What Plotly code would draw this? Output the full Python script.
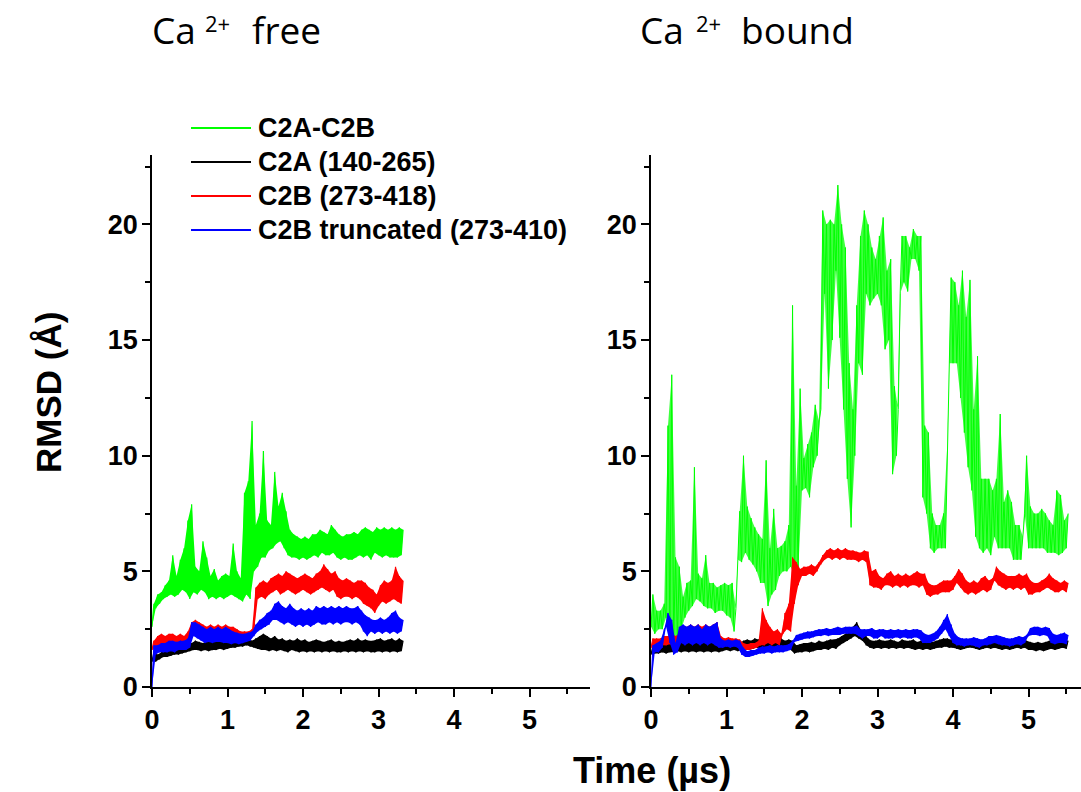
import plotly.graph_objects as go

# ---------------- data (RMSD in Å; lo/hi = lower/upper edge of the noisy trace every 0.05 µs) --------
STEP = 0.05  # µs between samples

# Ca2+ free panel, t = 0.00 ... 3.30 µs
free_green_lo = [2.6, 3.4, 3.6, 3.8, 3.9, 4.0, 3.9, 4.0, 4.2, 4.1,
                 3.8, 4.1, 4.0, 4.2, 4.1, 3.8, 3.9, 3.8, 3.9, 3.8,
                 3.9, 4.0, 3.9, 3.8, 3.7, 4.0, 3.8, 5.0, 5.2, 5.6,
                 5.6, 5.9, 6.0, 6.2, 6.3, 6.0, 5.7, 5.6, 5.6, 5.5,
                 5.6, 5.5, 5.6, 5.7, 5.6, 5.8, 5.7, 5.7, 5.8, 5.6,
                 5.5, 5.6, 5.5, 5.5, 5.6, 5.7, 5.6, 5.7, 5.5, 5.8,
                 5.7, 5.6, 5.7, 5.6, 5.6, 5.6, 5.7]
free_green_hi = [3.6, 4.0, 4.1, 4.4, 4.6, 5.7, 4.8, 5.5, 6.0, 7.2,
                 7.9, 5.2, 5.0, 6.3, 5.6, 4.8, 5.1, 4.6, 4.8, 4.9,
                 4.8, 6.2, 5.0, 4.7, 8.4, 8.9, 11.5, 7.0, 7.5, 10.2,
                 7.2, 7.0, 9.3, 7.8, 8.4, 7.6, 6.8, 6.6, 6.5, 6.4,
                 6.5, 6.4, 6.6, 6.6, 6.8, 6.7, 6.6, 7.0, 6.8, 6.6,
                 6.5, 6.6, 6.6, 6.7, 6.6, 6.8, 6.9, 6.8, 6.7, 6.9,
                 6.8, 6.9, 6.8, 6.9, 6.8, 6.9, 6.8]
free_black_lo = [1.1, 1.1, 1.2, 1.3, 1.3, 1.35, 1.4, 1.4, 1.45, 1.5,
                 1.55, 1.6, 1.6, 1.55, 1.6, 1.55, 1.6, 1.6, 1.65, 1.6,
                 1.65, 1.7, 1.7, 1.75, 1.75, 1.8, 1.75, 1.7, 1.65, 1.6,
                 1.6, 1.55, 1.6, 1.55, 1.6, 1.55, 1.5, 1.6, 1.55, 1.5,
                 1.55, 1.5, 1.55, 1.5, 1.55, 1.5, 1.55, 1.5, 1.55, 1.5,
                 1.5, 1.55, 1.5, 1.55, 1.5, 1.55, 1.5, 1.55, 1.5, 1.5,
                 1.55, 1.5, 1.55, 1.5, 1.55, 1.5, 1.55]
free_black_hi = [1.5, 1.4, 1.5, 1.6, 1.6, 1.65, 1.7, 1.7, 1.75, 1.8,
                 1.9, 2.0, 1.95, 1.9, 2.0, 1.95, 1.95, 2.0, 1.95, 2.0,
                 2.0, 2.05, 2.0, 2.05, 2.1, 2.1, 2.0, 2.1, 2.2, 2.3,
                 2.2, 2.1, 2.2, 2.05, 2.1, 2.0, 2.05, 2.0, 2.1, 2.0,
                 2.05, 1.95, 2.0, 2.05, 2.0, 1.95, 2.0, 2.05, 1.95, 2.0,
                 1.95, 2.0, 2.05, 2.0, 2.1, 2.0, 2.05, 2.0, 2.0, 2.05,
                 2.1, 2.0, 2.05, 2.1, 2.0, 2.1, 2.0]
free_red_lo = [1.6, 1.7, 1.8, 1.8, 1.7, 1.8, 1.75, 1.8, 1.8, 1.9,
               1.9, 2.3, 2.2, 2.1, 2.0, 2.1, 2.0, 2.1, 2.1, 2.1,
               2.0, 2.0, 2.0, 2.0, 2.05, 2.1, 2.1, 2.4, 3.8, 3.9,
               3.8, 4.0, 4.1, 4.2, 4.0, 4.1, 4.2, 4.1, 4.0, 4.1,
               4.2, 4.1, 4.0, 4.1, 4.2, 4.3, 4.2, 4.1, 4.2, 3.9,
               3.8, 3.9, 3.9, 3.8, 3.9, 3.8, 3.6, 3.5, 3.4, 3.2,
               3.5, 3.7, 3.6, 3.7, 3.8, 3.7, 3.6]
free_red_hi = [2.0, 2.2, 2.3, 2.2, 2.3, 2.3, 2.2, 2.3, 2.2, 2.4,
               2.8, 2.9, 2.8, 2.7, 2.6, 2.7, 2.6, 2.7, 2.6, 2.7,
               2.6, 2.6, 2.5, 2.4, 2.4, 2.4, 2.5, 4.3, 4.5, 4.6,
               4.5, 4.7, 4.8, 4.9, 4.8, 5.0, 4.9, 4.8, 4.7, 4.8,
               4.9, 4.8, 4.7, 4.9, 5.0, 5.3, 5.1, 4.9, 5.0, 4.7,
               4.6, 4.7, 4.6, 4.5, 4.6, 4.6, 4.5, 4.3, 4.2, 4.0,
               4.4, 4.6, 4.5, 4.6, 5.2, 4.8, 4.6]
free_blue_lo = [0.0, 1.4, 1.5, 1.5, 1.5, 1.55, 1.5, 1.6, 1.6, 1.6,
                1.7, 2.2, 2.1, 2.0, 1.9, 1.95, 1.9, 1.95, 1.95, 1.9,
                1.9, 1.85, 1.9, 1.85, 1.9, 1.95, 2.0, 2.2, 2.4, 2.5,
                2.6, 2.7, 2.9, 2.9, 2.8, 2.7, 2.8, 2.7, 2.6, 2.7,
                2.6, 2.7, 2.6, 2.7, 2.8, 2.7, 2.7, 2.8, 2.7, 2.8,
                2.7, 2.8, 2.8, 2.7, 2.8, 2.7, 2.4, 2.2, 2.4, 2.3,
                2.4, 2.3, 2.4, 2.3, 2.4, 2.3, 2.4]
free_blue_hi = [1.8, 1.8, 1.9, 1.9, 2.0, 2.0, 1.95, 2.0, 2.0, 2.1,
                2.8, 2.8, 2.7, 2.6, 2.5, 2.6, 2.5, 2.6, 2.5, 2.6,
                2.5, 2.4, 2.35, 2.3, 2.3, 2.35, 2.4, 2.7, 2.9, 3.0,
                3.2, 3.3, 3.6, 3.7, 3.5, 3.4, 3.6, 3.4, 3.3, 3.4,
                3.3, 3.4, 3.3, 3.5, 3.4, 3.5, 3.4, 3.5, 3.4, 3.5,
                3.4, 3.5, 3.4, 3.4, 3.5, 3.3, 3.1, 3.0, 2.9, 2.9,
                3.0, 2.9, 3.0, 3.2, 3.3, 3.0, 2.9]

# Ca2+ bound panel, t = 0.00 ... 5.50 µs
bound_green_lo = [2.6, 2.3, 2.5, 2.5, 3.0, 2.2, 2.0, 2.1, 2.5, 3.0,
                  3.3, 3.5, 3.8, 3.7, 3.5, 3.4, 3.4, 3.2, 3.3, 3.3,
                  3.1, 3.0, 2.4, 5.5, 5.4, 5.8, 5.5, 5.3, 5.0, 4.5,
                  4.5, 3.5, 4.0, 4.2, 4.8, 5.0, 5.0, 5.2, 4.8, 5.0,
                  8.5, 8.6, 8.2, 9.5, 10.0, 12.0, 17.0, 12.9, 15.0, 18.0,
                  15.1, 12.0, 9.0, 6.9, 10.0, 14.0, 13.5, 17.0, 16.5, 16.8,
                  17.0, 16.5, 14.6, 15.0, 9.2, 10.0, 17.0, 17.5, 17.1, 18.5,
                  18.5, 18.0, 8.2, 7.5, 6.0, 5.8, 6.0, 6.0, 6.0, 14.0,
                  14.0, 14.0, 12.5, 11.0, 9.5, 8.5, 6.5, 6.0, 5.8, 6.0,
                  5.7, 6.5, 6.0, 6.0, 6.0, 6.0, 5.5, 5.5, 5.5, 7.5,
                  6.0, 6.0, 6.0, 6.0, 6.0, 5.8, 5.8, 5.8, 5.7, 5.8,
                  6.0]
bound_green_hi = [4.0, 3.3, 3.3, 3.6, 11.3, 13.5, 5.6, 5.2, 3.9, 4.5,
                  4.6, 9.5, 4.9, 4.7, 5.7, 4.5, 4.5, 4.3, 4.4, 4.5,
                  4.4, 4.5, 3.4, 7.6, 10.0, 7.8, 7.3, 6.9, 6.6, 6.4,
                  9.8, 6.0, 7.7, 6.0, 6.1, 6.3, 7.0, 16.5, 8.7, 12.9,
                  9.9, 10.5, 11.0, 12.2, 11.5, 20.6, 20.0, 20.2, 20.0, 21.7,
                  20.0, 19.0, 14.0, 12.0, 16.5, 19.5, 20.6, 20.0, 19.0, 18.5,
                  19.5, 20.3, 18.0, 18.5, 13.0, 12.0, 19.5, 19.5, 19.0, 19.8,
                  19.5, 19.5, 11.3, 11.0, 7.5, 7.0, 7.0, 7.5, 10.5, 17.7,
                  17.5, 16.5, 18.0, 16.0, 17.6, 12.0, 14.3, 9.0, 9.0, 9.0,
                  8.5, 9.0, 11.8, 8.0, 8.5, 8.0, 7.0, 7.0, 6.5, 10.0,
                  7.8, 7.5, 7.5, 7.7, 7.5, 7.2, 7.0, 8.5, 8.3, 7.2,
                  7.5]
bound_black_lo = [1.4, 1.45, 1.45, 1.5, 1.45, 1.5, 1.5, 1.55, 1.5, 1.55,
                  1.5, 1.55, 1.5, 1.55, 1.5, 1.55, 1.5, 1.55, 1.5, 1.55,
                  1.6, 1.55, 1.6, 1.55, 1.6, 1.65, 1.6, 1.65, 1.7, 1.65,
                  1.7, 1.65, 1.7, 1.65, 1.7, 1.65, 1.7, 1.6, 1.45, 1.5,
                  1.5, 1.55, 1.5, 1.55, 1.6, 1.6, 1.65, 1.6, 1.7, 1.65,
                  1.8, 1.9, 2.0, 2.1, 2.2, 2.1, 2.0, 1.8, 1.7, 1.65,
                  1.7, 1.65, 1.7, 1.65, 1.7, 1.65, 1.7, 1.65, 1.7, 1.65,
                  1.6, 1.65, 1.6, 1.65, 1.6, 1.65, 1.7, 1.7, 1.75, 1.7,
                  1.7, 1.65, 1.6, 1.65, 1.7, 1.7, 1.65, 1.6, 1.65, 1.7,
                  1.65, 1.7, 1.65, 1.6, 1.65, 1.6, 1.65, 1.7, 1.65, 1.7,
                  1.6, 1.6, 1.55, 1.6, 1.55, 1.6, 1.65, 1.6, 1.65, 1.7,
                  1.65]
bound_black_hi = [1.8, 1.8, 1.85, 1.8, 1.85, 1.9, 1.85, 1.9, 1.95, 1.9,
                  1.95, 1.9, 1.95, 2.0, 1.9, 1.95, 1.9, 1.95, 1.9, 1.95,
                  1.95, 1.9, 1.95, 1.9, 2.0, 2.05, 2.0, 2.1, 2.05, 2.1,
                  2.1, 2.0, 2.1, 2.05, 2.1, 2.0, 2.05, 2.0, 1.8, 1.85,
                  1.9, 1.9, 1.95, 1.9, 2.0, 1.95, 2.0, 2.05, 2.05, 2.1,
                  2.2, 2.3, 2.4, 2.6, 2.8, 2.5, 2.35, 2.1, 2.0, 2.0,
                  2.05, 2.0, 2.0, 2.05, 2.0, 1.95, 2.05, 2.0, 2.0, 2.05,
                  1.95, 2.0, 1.95, 2.0, 1.95, 2.0, 2.05, 2.1, 2.1, 2.05,
                  2.0, 1.95, 2.0, 1.95, 2.0, 2.05, 2.0, 1.95, 2.0, 2.05,
                  2.0, 2.0, 1.95, 1.95, 2.0, 1.95, 2.0, 2.05, 2.0, 2.0,
                  1.95, 1.9, 1.95, 1.9, 1.95, 2.0, 2.0, 1.95, 2.0, 2.05,
                  2.0]
bound_red_lo = [1.7, 1.7, 1.75, 1.8, 1.8, 1.85, 1.8, 1.9, 1.9, 2.0,
                2.0, 2.0, 2.1, 2.0, 2.1, 2.0, 2.1, 2.1, 1.9, 1.85,
                1.85, 1.8, 1.85, 1.8, 1.65, 1.6, 1.6, 1.65, 1.7, 1.8,
                1.8, 1.9, 1.8, 1.9, 1.8, 2.3, 2.5, 2.4, 3.6, 4.4,
                4.8, 4.8, 4.9, 4.8, 5.0, 5.3, 5.5, 5.6, 5.5, 5.6,
                5.5, 5.6, 5.5, 5.5, 5.5, 5.4, 5.5, 5.4, 4.4, 4.3,
                4.3, 4.2, 4.4, 4.4, 4.3, 4.4, 4.3, 4.4, 4.3, 4.4,
                4.4, 4.3, 4.4, 4.0, 3.9, 4.0, 4.0, 4.1, 4.1, 4.1,
                4.2, 4.5, 4.3, 4.1, 4.0, 4.1, 4.0, 4.1, 4.2, 4.1,
                4.2, 4.6, 4.4, 4.3, 4.2, 4.3, 4.2, 4.3, 4.2, 4.3,
                4.0, 4.0, 4.1, 4.1, 4.2, 4.3, 4.2, 4.1, 4.1, 4.2,
                4.1]
bound_red_hi = [2.1, 2.1, 2.1, 2.2, 2.2, 2.3, 2.2, 2.3, 2.5, 2.6,
                2.7, 2.6, 2.7, 2.6, 2.7, 2.6, 2.7, 2.8, 2.2, 2.1,
                2.15, 2.1, 2.1, 2.05, 1.9, 1.85, 1.9, 1.9, 2.0, 3.4,
                2.9, 2.6, 2.4, 2.5, 2.3, 3.2, 3.6, 5.6, 5.4, 5.1,
                5.2, 5.2, 5.3, 5.2, 5.4, 5.7, 5.9, 6.0, 5.9, 6.0,
                5.9, 6.0, 5.9, 5.9, 5.85, 5.8, 5.9, 5.85, 5.0, 5.1,
                4.8, 4.7, 4.9, 5.0, 4.8, 4.9, 4.8, 4.9, 4.8, 4.9,
                5.0, 4.9, 4.9, 4.5, 4.4, 4.4, 4.5, 4.6, 4.6, 4.6,
                4.8, 5.1, 4.9, 4.6, 4.5, 4.6, 4.5, 4.7, 4.8, 4.6,
                4.7, 5.2, 5.0, 4.9, 4.8, 4.8, 4.8, 4.9, 4.8, 4.9,
                4.6, 4.5, 4.5, 4.6, 4.7, 4.9, 4.7, 4.6, 4.5, 4.6,
                4.5]
bound_blue_lo = [0.0, 1.5, 1.5, 1.7, 2.6, 1.9, 1.4, 1.5, 1.9, 1.8,
                 1.9, 1.8, 1.9, 1.8, 1.9, 1.8, 1.9, 1.8, 1.7, 1.7,
                 1.75, 1.7, 1.75, 1.7, 1.4, 1.3, 1.3, 1.35, 1.4, 1.45,
                 1.45, 1.5, 1.45, 1.5, 1.5, 1.5, 1.55, 1.6, 1.95, 2.0,
                 2.05, 2.1, 2.1, 2.15, 2.2, 2.2, 2.25, 2.2, 2.25, 2.25,
                 2.25, 2.3, 2.3, 2.3, 2.3, 2.2, 2.1, 2.2, 2.2, 2.1,
                 2.1, 2.2, 2.1, 2.1, 2.1, 2.15, 2.1, 2.15, 2.1, 2.1,
                 2.15, 2.1, 1.9, 1.9, 1.9, 2.0, 2.1, 2.3, 2.5, 2.2,
                 1.9, 1.8, 1.8, 1.75, 1.8, 1.8, 1.75, 1.7, 1.8, 1.8,
                 1.85, 1.9, 1.85, 1.8, 1.8, 1.75, 1.8, 1.85, 1.8, 1.9,
                 2.2, 2.25, 2.25, 2.2, 2.25, 2.2, 1.9, 1.85, 1.9, 1.9,
                 1.85]
bound_blue_hi = [1.8, 1.9, 2.0, 2.5, 3.2, 2.9, 1.9, 2.6, 2.7, 2.6,
                 2.7, 2.6, 2.7, 2.5, 2.7, 2.6, 2.7, 2.8, 2.1, 2.0,
                 2.05, 2.0, 2.05, 2.0, 1.7, 1.55, 1.6, 1.6, 1.7, 1.75,
                 1.75, 1.8, 1.75, 1.8, 1.8, 1.8, 1.85, 2.0, 2.25, 2.3,
                 2.35, 2.4, 2.4, 2.45, 2.5, 2.5, 2.55, 2.5, 2.55, 2.6,
                 2.55, 2.6, 2.6, 2.6, 2.65, 2.5, 2.5, 2.5, 2.55, 2.45,
                 2.5, 2.5, 2.45, 2.5, 2.45, 2.5, 2.45, 2.5, 2.45, 2.5,
                 2.5, 2.45, 2.3, 2.25, 2.3, 2.4, 2.6, 2.9, 3.15, 2.7,
                 2.3, 2.15, 2.1, 2.1, 2.1, 2.15, 2.1, 2.05, 2.1, 2.2,
                 2.2, 2.25, 2.2, 2.15, 2.1, 2.1, 2.15, 2.2, 2.15, 2.25,
                 2.55, 2.6, 2.6, 2.55, 2.6, 2.55, 2.3, 2.25, 2.3, 2.35,
                 2.25]

series_names = ["C2A-C2B", "C2A (140-265)", "C2B (273-418)", "C2B truncated (273-410)"]
series_colors = ["#00ff00", "#000000", "#ff0000", "#0000ff"]
x_tick_vals = [0, 1, 2, 3, 4, 5]
y_tick_vals = [0, 5, 10, 15, 20]

free_series = [(free_green_lo, free_green_hi), (free_black_lo, free_black_hi),
               (free_red_lo, free_red_hi), (free_blue_lo, free_blue_hi)]
bound_series = [(bound_green_lo, bound_green_hi), (bound_black_lo, bound_black_hi),
                (bound_red_lo, bound_red_hi), (bound_blue_lo, bound_blue_hi)]


def trace_xy(lo, hi):
    """Interleave the read lower/upper edges into one noisy trace."""
    xs, ys = [], []
    for i, (a, b) in enumerate(zip(lo, hi)):
        t = round(i * STEP, 3)
        xs += [t, t + STEP / 2]
        ys += [a, b]
    return xs, ys


def band_xy(lo, hi):
    """Closed outline of the trace envelope (upper edge forward, lower edge back)."""
    t = [round(i * STEP, 3) for i in range(len(lo))]
    xs = [ti + STEP / 2 for ti in t] + t[::-1]
    ys = list(hi) + list(lo)[::-1]
    return xs, ys


def rgba(hexcol, a):
    h = hexcol.lstrip("#")
    return "rgba(%d,%d,%d,%.2f)" % (int(h[0:2], 16), int(h[2:4], 16), int(h[4:6], 16), a)


# ---------------- layout geometry ----------------
W, H = 1081, 792
def px(x):
    return x / W
def py(y):
    return (H - y) / H

fig = go.Figure()
panels = [(free_series, "x", "y", 1.0, 1.2), (bound_series, "x2", "y2", 0.75, 1.0)]
for series, xa, ya, green_alpha, lw in panels:
    for k, ((lo, hi), name, col) in enumerate(zip(series, series_names, series_colors)):
        alpha = green_alpha if k == 0 else 1.0
        bx, by = band_xy(lo, hi)
        fig.add_trace(go.Scatter(x=bx, y=by, mode="lines", fill="toself",
                                 fillcolor=rgba(col, alpha), line=dict(width=0),
                                 hoverinfo="skip", showlegend=False, xaxis=xa, yaxis=ya))
        xs, ys = trace_xy(lo, hi)
        fig.add_trace(go.Scatter(x=xs, y=ys, mode="lines", name=name,
                                 line=dict(color=col, width=lw), showlegend=False,
                                 xaxis=xa, yaxis=ya))

tickfont = dict(family="Liberation Sans, Arial, sans-serif", size=27, color="black", weight="bold")
axis_common = dict(showline=True, linecolor="black", linewidth=1.5, ticks="outside",
                   ticklen=8, tickwidth=1.5, tickcolor="black", showgrid=False,
                   zeroline=False, tickfont=tickfont, automargin=False)
minor_common = dict(ticks="outside", ticklen=5, tickwidth=1.5, tickcolor="black", showgrid=False)

y_dom = [py(687), py(155)]
fig.update_layout(
    width=W, height=H, margin=dict(l=0, r=0, t=0, b=0),
    paper_bgcolor="white", plot_bgcolor="white", showlegend=False,
    xaxis=dict(domain=[px(152), px(590)], range=[0, 5.8], tickvals=x_tick_vals,
               minor=dict(dtick=0.5, tick0=0, **minor_common), anchor="y", **axis_common),
    yaxis=dict(domain=y_dom, range=[0, 23], tickvals=y_tick_vals, ticklabelstandoff=-1,
               minor=dict(dtick=2.5, tick0=0, **minor_common), anchor="x", **axis_common),
    xaxis2=dict(domain=[px(651), 1.0], range=[0, (W - 651) / 75.5], tickvals=x_tick_vals,
                minor=dict(dtick=0.5, tick0=0, **minor_common), anchor="y2", **axis_common),
    yaxis2=dict(domain=y_dom, range=[0, 23], tickvals=y_tick_vals, ticklabelstandoff=-1,
                minor=dict(dtick=2.5, tick0=0, **minor_common), anchor="x2", **axis_common),
)

bold_font = "Liberation Sans, Arial, sans-serif"
title_font = "Open Sans, Noto Sans, sans-serif"
annotations = [
    dict(text="RMSD (Å)", x=px(48), y=py(393), textangle=-90, showarrow=False,
         xref="paper", yref="paper", xanchor="center", yanchor="middle",
         font=dict(family=bold_font, size=35, color="black", weight="bold")),
    dict(text="Time (µs)", x=px(652), y=py(770), showarrow=False,
         xref="paper", yref="paper", xanchor="center", yanchor="middle",
         font=dict(family=bold_font, size=36, color="black", weight="bold")),
]

# panel titles: "Ca", superscript "2+", state word
title_parts = [("Ca", 150, 30, 37), ("2+", 203, 23, 22), ("free", 250, 30, 37),
               ("Ca", 638, 30, 37), ("2+", 694, 23, 22), ("bound", 739, 30, 37)]
for txt, xx, yy, sz in title_parts:
    annotations.append(dict(text=txt, x=px(xx), y=py(yy), showarrow=False,
                            xref="paper", yref="paper", xanchor="left", yanchor="middle",
                            font=dict(family=title_font, size=sz, color="black")))

# legend drawn inside the left panel
legend_rows_y = [128, 162, 196, 230]
shapes = []
for name, col, yy in zip(series_names, series_colors, legend_rows_y):
    shapes.append(dict(type="line", xref="paper", yref="paper", x0=px(191), x1=px(251),
                       y0=py(yy), y1=py(yy), line=dict(color=col, width=2)))
    annotations.append(dict(text=name, x=px(256), y=py(yy), showarrow=False,
                            xref="paper", yref="paper", xanchor="left", yanchor="middle",
                            font=dict(family=bold_font, size=27, color="black", weight="bold")))

fig.update_layout(annotations=annotations, shapes=shapes)
fig.write_html("out.html")
